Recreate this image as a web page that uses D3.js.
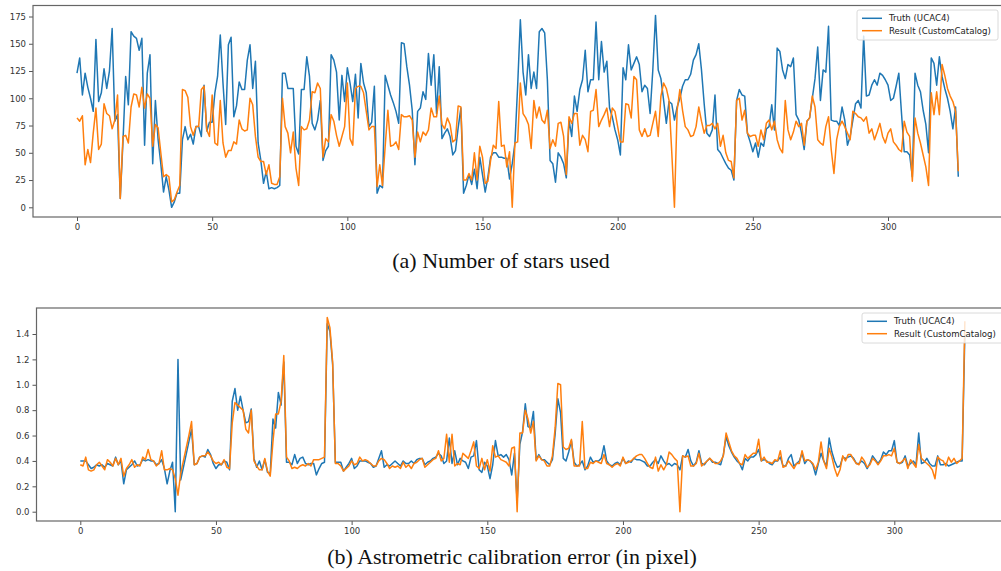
<!DOCTYPE html>
<html>
<head>
<meta charset="utf-8">
<script src="https://cdn.jsdelivr.net/npm/d3@7/dist/d3.min.js"></script>
<style>
  body{margin:0;background:#fff;}
  svg{display:block;}
  .tick text{font-family:"DejaVu Sans",sans-serif;font-size:8.5px;fill:#333;}
  .tick line{stroke:#555;}
</style>
</head>
<body>
<svg id="fig" width="1001" height="571"></svg>
<script>
const seriesNames = ['Truth (UCAC4)', 'Result (CustomCatalog)'];
const seriesColors = ['#1f77b4', '#ff7f0e'];
const xTicks = [0, 50, 100, 150, 200, 250, 300];
const starTicks = [0, 25, 50, 75, 100, 125, 150, 175];
const errorTicks = [0, 0.2, 0.4, 0.6, 0.8, 1.0, 1.2, 1.4];
const captions = ['(a) Number of stars used', '(b) Astrometric calibration error (in pixel)'];

// nombre d'etoiles (a)
const truthStars = [
  123,137,103,123,110,100,88,154,97,105,
  127,109,125,164,79,85,8,60,120,94,
  161,157,155,144,155,57,123,140,40,98,
  62,40,14,28,16,0,5,13,13,62,
  74,62,67,58,74,74,65,112,70,78,
  78,105,120,158,114,76,149,156,83,93,
  115,108,108,135,149,109,134,59,43,22,
  33,17,18,17,18,20,123,123,109,109,
  109,56,49,108,108,138,120,77,71,80,
  98,43,52,56,140,135,124,80,121,97,
  128,114,97,122,82,132,114,105,74,78,
  111,13,20,18,121,112,103,96,88,77,
  151,150,129,112,89,39,88,91,106,99,
  141,112,140,86,129,63,68,72,65,48,
  52,73,91,13,20,30,21,35,17,46,
  30,14,28,46,50,50,46,46,45,45,
  26,40,59,111,172,124,103,140,109,124,
  109,161,164,160,117,43,40,23,50,46,
  40,27,80,65,102,88,108,117,144,106,
  117,117,170,117,152,124,134,91,83,71,
  62,48,128,117,149,126,132,138,131,106,
  112,109,86,126,176,126,118,98,77,97,
  95,80,92,100,111,117,117,122,135,140,
  150,126,95,68,65,71,103,53,50,45,
  40,36,34,25,98,108,103,102,68,60,
  51,59,46,59,56,72,74,94,71,146,
  143,126,118,131,129,137,85,80,68,53,
  79,82,100,118,147,98,126,124,166,80,
  79,79,75,92,80,57,65,80,95,98,
  91,157,102,103,112,117,112,123,121,117,
  112,98,100,111,123,86,51,51,48,28,
  123,112,106,89,76,50,137,132,112,138,
  120,109,100,88,72,92,28
];
const resultStars = [
  82,79,84,39,53,41,68,91,53,58,
  95,86,84,72,80,103,8,65,66,59,
  92,104,103,92,110,91,104,100,56,76,
  73,50,28,30,28,5,7,14,20,108,
  107,101,74,66,74,74,108,111,71,65,
  103,59,57,98,59,46,52,52,60,58,
  80,72,70,71,100,94,65,46,42,42,
  30,39,22,21,21,28,100,74,68,50,
  69,36,20,74,71,72,80,106,105,114,
  109,46,63,60,85,79,66,56,65,74,
  114,63,57,109,111,111,105,88,71,74,
  74,19,39,20,56,89,56,57,60,53,
  85,83,83,84,80,46,69,60,69,66,
  71,91,83,83,102,76,72,82,76,60,
  62,93,92,25,25,31,25,50,25,56,
  46,22,24,43,57,54,97,56,57,37,
  51,0,59,60,114,86,82,76,54,98,
  82,92,80,77,89,54,62,56,77,78,
  65,30,83,77,86,86,57,66,62,51,
  88,89,108,74,80,85,91,74,91,88,
  74,60,60,95,94,82,120,117,71,65,
  72,65,66,77,88,65,102,114,109,98,
  51,0,89,108,89,74,71,65,66,74,
  92,79,68,75,75,77,72,77,56,66,
  50,43,42,27,98,100,80,89,68,65,
  66,66,56,71,62,77,80,71,79,62,
  54,50,98,71,62,69,79,74,77,57,
  79,82,102,92,62,59,57,74,83,53,
  31,62,74,79,74,68,62,88,86,83,
  82,79,83,68,72,62,69,77,65,59,
  68,72,60,57,53,51,79,69,65,24,
  82,68,59,48,37,20,105,85,106,85,
  131,121,109,102,97,88,33
];

// erreur de calibration (b)
const truthError = [
  .40,.40,.40,.37,.34,.35,.37,.36,.37,.35,
  .38,.37,.36,.43,.37,.40,.22,.33,.35,.37,
  .40,.36,.37,.41,.40,.41,.40,.40,.37,.38,
  .41,.34,.22,.32,.39,0,1.20,.25,.35,.45,
  .55,.65,.37,.38,.43,.44,.43,.49,.45,.38,
  .34,.37,.37,.40,.39,.33,.87,.97,.80,.91,
  .80,.70,.71,.81,.42,.35,.40,.33,.41,.31,
  .30,.73,.66,.94,.84,1.18,.39,.39,.37,.45,
  .38,.42,.43,.38,.37,.38,.38,.29,.34,.38,
  .39,1.48,1.42,1.16,.39,.39,.39,.32,.35,.38,
  .42,.34,.36,.40,.40,.40,.39,.38,.35,.36,
  .42,.48,.35,.37,.36,.38,.40,.38,.36,.40,
  .38,.38,.40,.38,.41,.42,.42,.37,.39,.40,
  .42,.43,.46,.44,.38,.40,.58,.38,.48,.37,
  .42,.40,.39,.34,.43,.44,.56,.33,.31,.39,
  .36,.26,.37,.56,.44,.45,.43,.45,.41,.29,
  .46,.08,.53,.63,.85,.67,.66,.79,.41,.45,
  .41,.41,.39,.37,.41,.61,.89,.78,.42,.40,
  .47,.56,.39,.36,.37,.40,.33,.36,.43,.39,
  .40,.40,.42,.52,.40,.37,.36,.38,.39,.37,
  .42,.38,.40,.39,.42,.41,.41,.40,.39,.36,
  .36,.39,.41,.38,.44,.40,.37,.38,.36,.38,
  .37,.33,.44,.43,.49,.40,.36,.39,.48,.38,
  .37,.40,.42,.39,.39,.38,.37,.45,.59,.52,
  .47,.43,.40,.38,.33,.42,.40,.43,.43,.45,
  .49,.40,.41,.40,.38,.37,.40,.40,.43,.36,
  .36,.42,.45,.36,.38,.40,.46,.38,.41,.40,
  .37,.29,.38,.46,.40,.36,.58,.47,.40,.35,
  .36,.43,.42,.43,.44,.42,.38,.38,.40,.38,
  .34,.38,.44,.41,.38,.41,.47,.45,.48,.48,
  .56,.39,.38,.39,.44,.36,.38,.40,.37,.62,
  .38,.39,.42,.38,.36,.36,.44,.37,.37,.38,
  .36,.37,.38,.39,.40,.40,1.40
];
const resultError = [
  .37,.36,.43,.33,.32,.33,.37,.39,.36,.33,
  .41,.39,.36,.42,.37,.42,.28,.34,.37,.41,
  .35,.37,.36,.43,.41,.49,.41,.40,.36,.38,
  .48,.33,.33,.34,.33,.26,.13,.30,.40,.50,
  .60,.71,.37,.38,.43,.44,.44,.47,.44,.40,
  .38,.39,.37,.41,.35,.34,.70,.86,.84,.82,
  .80,.65,.62,.80,.40,.36,.33,.33,.42,.32,
  .28,.55,.77,.77,.87,1.23,.43,.40,.34,.35,
  .34,.36,.37,.36,.38,.36,.41,.41,.41,.42,
  .43,1.53,1.45,1.18,.38,.38,.36,.32,.34,.36,
  .40,.37,.38,.43,.40,.41,.40,.38,.36,.36,
  .40,.42,.41,.38,.34,.36,.35,.36,.34,.39,
  .35,.37,.34,.38,.39,.41,.42,.35,.37,.39,
  .41,.42,.48,.40,.42,.61,.39,.61,.36,.38,
  .37,.46,.44,.42,.48,.55,.36,.34,.42,.33,
  .41,.32,.52,.43,.44,.41,.40,.39,.36,.50,
  .51,0,.62,.62,.80,.73,.62,.71,.40,.44,
  .41,.40,.36,.36,.44,.66,1.01,1.00,.51,.49,
  .50,.57,.36,.36,.36,.71,.34,.34,.39,.38,
  .40,.39,.38,.45,.38,.37,.35,.37,.38,.36,
  .43,.38,.39,.40,.42,.44,.45,.45,.42,.38,
  .35,.34,.43,.32,.37,.33,.37,.47,.45,.42,
  .40,0,.44,.43,.44,.36,.36,.38,.46,.36,
  .38,.40,.42,.40,.38,.38,.40,.44,.62,.55,
  .48,.44,.42,.38,.37,.45,.42,.44,.46,.46,
  .57,.40,.43,.39,.39,.38,.41,.40,.48,.35,
  .36,.40,.37,.34,.38,.38,.48,.40,.41,.40,
  .38,.33,.39,.55,.40,.34,.50,.43,.34,.28,
  .33,.44,.40,.45,.45,.41,.38,.37,.43,.40,
  .35,.37,.42,.40,.37,.40,.44,.44,.45,.44,
  .50,.39,.38,.40,.42,.34,.41,.38,.35,.53,
  .42,.40,.38,.36,.33,.26,.43,.41,.40,.36,
  .43,.39,.42,.38,.40,.42,1.50
];

const svg = d3.select('#fig');
svg.append('rect').attr('width', 1001).attr('height', 571).attr('fill', '#fff');

function drawPanel(id, cfg){
    let g = svg.append('g').attr('id', id),
        x = d3.scaleLinear().domain([0, 300]).range(cfg.xRange),
        y = d3.scaleLinear().domain(cfg.yDomain).range(cfg.yRange),
        f = cfg.frame;

    g.append('clipPath').attr('id', id + '-clip')
        .append('rect')
        .attr('x', f.x0).attr('y', f.y0)
        .attr('width', f.x1 - f.x0).attr('height', f.y1 - f.y0);

    //axes
    g.append('g')
        .attr('transform', `translate(0,${f.y1})`)
        .call(d3.axisBottom(x).tickValues(xTicks).tickSize(4).tickPadding(3))
        .call(a => a.select('.domain').remove());
    g.append('g')
        .attr('transform', `translate(${f.x0},0)`)
        .call(d3.axisLeft(y).tickValues(cfg.yTicks).tickFormat(d3.format(cfg.fmt)).tickSize(4).tickPadding(3))
        .call(a => a.select('.domain').remove());

    //courbes
    let line = d3.line().x((d, i) => x(i)).y(d => y(d));
    g.append('g').attr('clip-path', `url(#${id}-clip)`)
        .selectAll('path').data(cfg.series).enter()
        .append('path')
        .attr('d', d => line(d))
        .attr('fill', 'none')
        .attr('stroke', (d, i) => seriesColors[i])
        .attr('stroke-width', 1.5)
        .attr('stroke-linejoin', 'round');

    //cadre
    g.append('rect')
        .attr('x', f.x0).attr('y', f.y0)
        .attr('width', f.x1 - f.x0).attr('height', f.y1 - f.y0)
        .attr('fill', 'none').attr('stroke', '#666').attr('stroke-width', 1.2);

    //legende
    let L = cfg.legend,
        lg = g.append('g').attr('transform', `translate(${L.x},${L.y})`);
    lg.append('rect')
        .attr('width', L.w).attr('height', 30).attr('rx', 2)
        .attr('fill', '#fff').attr('fill-opacity', 0.8)
        .attr('stroke', '#d0d0d0').attr('stroke-width', 0.8);
    seriesNames.forEach((s, i) => {
        lg.append('line')
            .attr('x1', 5).attr('x2', 25)
            .attr('y1', 8.3 + i * 12.4).attr('y2', 8.3 + i * 12.4)
            .attr('stroke', seriesColors[i]).attr('stroke-width', 1.5);
        lg.append('text')
            .attr('x', 32).attr('y', 11.4 + i * 12.4)
            .attr('font-family', '"DejaVu Sans", sans-serif')
            .attr('font-size', 8.6).attr('fill', '#222')
            .text(s);
    });

    //legende de figure
    svg.append('text')
        .attr('x', cfg.caption.x).attr('y', cfg.caption.y)
        .attr('text-anchor', 'middle')
        .attr('font-family', '"Liberation Serif", "Times New Roman", serif')
        .attr('font-size', 22).attr('fill', '#111')
        .text(cfg.caption.text);
}

drawPanel('stars', {
    frame: {x0: 33, x1: 1002, y0: 5.5, y1: 217},
    xRange: [77, 888],
    yDomain: [0, 175], yRange: [207.3, 16.5],
    yTicks: starTicks, fmt: 'd',
    series: [truthStars, resultStars],
    legend: {x: 857, y: 10, w: 141},
    caption: {x: 501, y: 268, text: captions[0]}
});

drawPanel('error', {
    frame: {x0: 36.5, x1: 1010, y0: 308, y1: 521},
    xRange: [80.3, 894.3],
    yDomain: [0, 1.4], yRange: [511.7, 334],
    yTicks: errorTicks, fmt: '.1f',
    series: [truthError, resultError],
    legend: {x: 862, y: 313, w: 150},
    caption: {x: 512, y: 564, text: captions[1]}
});
</script>
</body>
</html>
